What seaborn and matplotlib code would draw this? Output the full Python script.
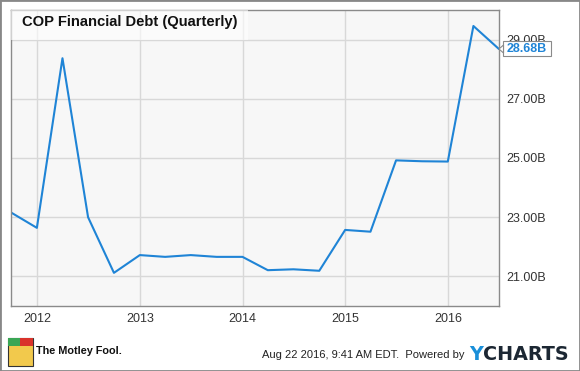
import matplotlib
matplotlib.use("Agg")
import matplotlib.pyplot as plt
import seaborn as sns
import pandas as pd
from matplotlib.patches import Rectangle, Polygon

# ---- data ----
dates = ["2011-09-30", "2011-12-31", "2012-03-31", "2012-06-30", "2012-09-30",
         "2012-12-31", "2013-03-31", "2013-06-30", "2013-09-30", "2013-12-31",
         "2014-03-31", "2014-06-30", "2014-09-30", "2014-12-31", "2015-03-31",
         "2015-06-30", "2015-09-30", "2015-12-31", "2016-03-31", "2016-06-30"]
debt_b = [23.16, 22.64, 28.37, 23.00, 21.12,
          21.72, 21.66, 21.72, 21.66, 21.66,
          21.21, 21.24, 21.19, 22.57, 22.51,
          24.92, 24.89, 24.88, 29.46, 28.68]
y_ticks = [21, 23, 25, 27, 29]
x_years = [2012, 2013, 2014, 2015, 2016]
title = "COP Financial Debt (Quarterly)"
last_label = "28.68B"

df = pd.DataFrame({"date": pd.to_datetime(dates), "debt": debt_b})

sns.set_style("white")
plt.rcParams["font.family"] = ["Liberation Sans", "DejaVu Sans"]

W, H = 580, 371
fig = plt.figure(figsize=(W / 100, H / 100), dpi=100)
fig.patch.set_facecolor("white")

def fx(px):
    return px / W

def fy(py):
    return 1 - py / H

L, R, T, B = 11, 499, 10, 306
ax = fig.add_axes([fx(L), fy(B), (R - L) / W, (B - T) / H])
ax.set_facecolor("#f7f7f7")

line_color = "#1f84d6"
sns.lineplot(data=df, x="date", y="debt", ax=ax, color=line_color, lw=1.5)

ax.set_xlim(df["date"].iloc[0], df["date"].iloc[-1])
ax.set_ylim(20, 30)

ax.set_yticks(y_ticks)
ax.set_yticklabels([f"{v:.2f}B" for v in y_ticks])
ax.yaxis.tick_right()
ax.set_xticks([pd.Timestamp(f"{y}-01-01") for y in x_years])
ax.set_xticklabels([str(y) for y in x_years])
ax.tick_params(axis="both", length=0, labelsize=9, colors="#333333")
ax.tick_params(axis="y", pad=5)
ax.tick_params(axis="x", pad=5)
ax.set_xlabel("")
ax.set_ylabel("")
ax.grid(True, color="#d8d8d8", lw=1)
ax.set_axisbelow(True)
for s in ax.spines.values():
    s.set_color("#8a8a8a")
    s.set_linewidth(1)

# title box
ax.add_patch(Rectangle((0, 1 - 30 / (B - T)), (248 - L) / (R - L), 30 / (B - T),
                       transform=ax.transAxes, facecolor="white", alpha=0.6,
                       edgecolor="none", zorder=3))
ax.text(11 / (R - L), 1 - 12 / (B - T), title, transform=ax.transAxes,
        fontsize=10.6, fontweight="bold", color="#111111", va="center",
        ha="left", zorder=4)

# last value label with pointer
fig.patches.append(Rectangle((fx(503), fy(56)), 48 / W, 15 / H,
                             transform=fig.transFigure, facecolor="white",
                             edgecolor="#8a8a8a", lw=0.8, zorder=5))
fig.patches.append(Polygon([(fx(499), fy(49)), (fx(503.5), fy(45)),
                            (fx(503.5), fy(53))], closed=True,
                           transform=fig.transFigure, facecolor="white",
                           edgecolor="#8a8a8a", lw=0.8, zorder=6))
fig.text(fx(527), fy(48.5), last_label, fontsize=9, fontweight="bold",
         color=line_color, va="center", ha="center", zorder=7)

# footer: logo approximation
fig.patches.append(Rectangle((fx(8), fy(366)), 25 / W, 28 / H,
                             transform=fig.transFigure, facecolor="#f2c94c",
                             edgecolor="#333333", lw=0.8))
fig.patches.append(Rectangle((fx(8), fy(346)), 12 / W, 8 / H,
                             transform=fig.transFigure, facecolor="#3aa655",
                             edgecolor="none"))
fig.patches.append(Rectangle((fx(20), fy(346)), 13 / W, 8 / H,
                             transform=fig.transFigure, facecolor="#d9332b",
                             edgecolor="none"))
fig.text(fx(36), fy(351), "The Motley Fool.", fontsize=7.8,
         fontweight="bold", color="#111111", va="center", ha="left")
fig.text(fx(465), fy(355), "Aug 22 2016, 9:41 AM EDT.  Powered by",
         fontsize=8, color="#222222", va="center", ha="right")

ty = fig.text(fx(469), fy(355), "Y", fontsize=13.8, fontweight="bold",
              family="DejaVu Sans", color="#1a8fd9", va="center", ha="left")
fig.canvas.draw()
bb = ty.get_window_extent(renderer=fig.canvas.get_renderer())
fig.text(bb.x1 / fig.bbox.width, fy(355), "CHARTS", fontsize=13.8,
         fontweight="bold", family="DejaVu Sans", color="#1c2733",
         va="center", ha="left")

# outer border
fig.patches.append(Rectangle((0, 0), 1, 1, transform=fig.transFigure,
                             facecolor="none", edgecolor="#888888", lw=2))

fig.savefig("out.png", dpi=100)
